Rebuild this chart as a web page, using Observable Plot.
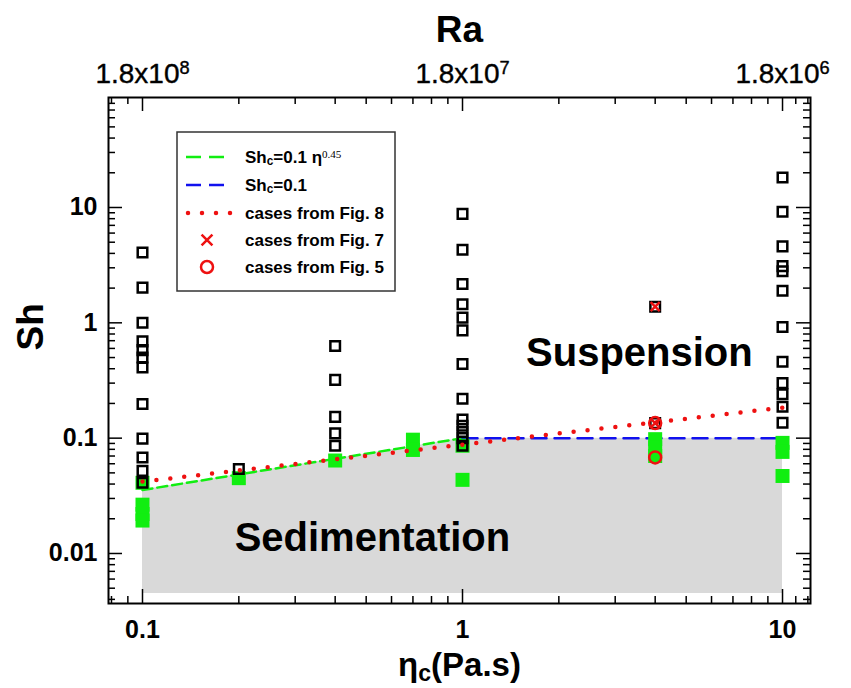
<!DOCTYPE html>
<html><head><meta charset="utf-8">
<script src="https://cdn.jsdelivr.net/npm/d3@7"></script>
<script src="https://cdn.jsdelivr.net/npm/@observablehq/plot@0.6"></script>
<style>
html,body{margin:0;padding:0;background:#fff;}
#chart{position:relative;width:851px;height:688px;}
</style></head><body><div id="chart"></div>
<script>
// ---------- data ----------
// open black squares (all simulated cases)
const openEta = [0.1,0.1,0.1,0.1,0.1,0.1,0.1,0.1,0.1,0.1,0.1,0.1,
                 0.2,
                 0.4,0.4,0.4,0.4,0.4,
                 1,1,1,1,1,1,1,1,1,1,1,1,1,
                 4,4,
                 10,10,10,10,10,10,10,10,10,10,10,10];
const openSh  = [4.07,2.02,1.0,0.69,0.58,0.50,0.41,0.198,0.099,0.068,0.052,0.041,
                 0.054,
                 0.63,0.32,0.153,0.11,0.086,
                 8.8,4.3,2.17,1.45,1.11,0.86,0.44,0.22,0.145,0.128,0.113,0.100,0.086,
                 1.38,0.135,
                 18.2,9.2,4.6,3.1,2.8,1.9,0.92,0.46,0.30,0.24,0.187,0.136];
// filled green squares (sedimenting cases)
const greenEta = [0.1,0.1,0.1,0.1, 0.2, 0.4, 0.7,0.7, 1,1, 4,4,4, 10,10,10];
const greenSh  = [0.041,0.0265,0.022,0.0193, 0.045, 0.064, 0.097,0.079, 0.086,0.0435, 0.098,0.083,0.07, 0.091,0.076,0.047];
// cases from Fig. 7 (red x) and Fig. 5 (red o)
const fig7Eta = [4,4];
const fig7Sh  = [1.38,0.135];
const fig5Eta = [4,4];
const fig5Sh  = [0.135,0.068];
// lines
const shcPowEta = [0.1,1];      // Sh_c = 0.1 eta^0.45
const shcPowSh  = [0.0355,0.1];
const shcConstEta = [1,10];     // Sh_c = 0.1
const shcConstSh  = [0.1,0.1];
const fig8Eta = [0.1,10];       // cases from Fig. 8
const fig8Sh  = [0.042,0.184];
// sedimentation region
const sedEta = [0.1,1,10];
const sedTop = [0.0355,0.1,0.1];
const sedBottom = 0.0045;
// region labels
const regionLabels = ["Suspension","Sedimentation"];
const regionEta = [3.57,0.523];
const regionSh  = [0.55,0.0137];
// axes
const xDomain = [0.0783,12.23];
const yDomain = [0.003684,89.9];
const xTickVals = [0.1,1,10];
const xTickLabels = ["0.1","1","10"];
const raTickLabels = ["1.8x10^{8}","1.8x10^{7}","1.8x10^{6}"];
const xMinor = [0.08,0.09,0.2,0.3,0.4,0.5,0.6,0.7,0.8,0.9,2,3,4,5,6,7,8,9,11,12];
const yTickVals = [0.01,0.1,1,10];
const yTickLabels = ["0.01","0.1","1","10"];
const yMinor = [0.004,0.005,0.006,0.007,0.008,0.009,0.02,0.03,0.04,0.05,0.06,0.07,0.08,0.09,
                0.2,0.3,0.4,0.5,0.6,0.7,0.8,0.9,2,3,4,5,6,7,8,9,20,30,40,50,60,70,80];
// legend
const legendLabels = ["Sh_{c}=0.1 η^{0.45}","Sh_{c}=0.1","cases from Fig. 8","cases from Fig. 7","cases from Fig. 5"];

// ---------- build ----------
const W = 851, H = 688;
const mL = 108, mR = 41, mT = 97, mB = 85;
const fw = W - mL - mR, fh = H - mT - mB;
const font = "'Liberation Sans', Arial, Helvetica, sans-serif";
const GREEN = "#11ee11", RED = "#ee1111", BLUE = "#1111ee";

const rows = (xs, ys) => xs.map((x, i) => ({x, y: ys[i]}));
const areaRows = sedEta.map((x, i) => ({x, y1: sedBottom, y2: sedTop[i]}));
const xt = xTickVals.map((v, i) => ({v, label: xTickLabels[i], ra: raTickLabels[i]}));
const yt = yTickVals.map((v, i) => ({v, label: yTickLabels[i]}));
const regions = regionLabels.map((t, i) => ({t, x: regionEta[i], y: regionSh[i]}));

const MAJ = 14, MIN = 7;
const chart = Plot.plot({
  width: W, height: H,
  marginLeft: mL, marginRight: mR, marginTop: mT, marginBottom: mB,
  style: {fontFamily: font, background: "white", color: "black"},
  x: {type: "log", domain: xDomain, axis: null},
  y: {type: "log", domain: yDomain, axis: null},
  marks: [
    Plot.areaY(areaRows, {x: "x", y1: "y1", y2: "y2", fill: "#d9d9d9"}),
    Plot.line(rows(shcPowEta, shcPowSh), {x: "x", y: "y", stroke: GREEN, strokeWidth: 2.5, strokeDasharray: "10,5"}),
    Plot.line(rows(shcConstEta, shcConstSh), {x: "x", y: "y", stroke: BLUE, strokeWidth: 2.5, strokeDasharray: "15,8"}),
    Plot.dot(rows(greenEta, greenSh), {x: "x", y: "y", symbol: "square", r: 7.9, fill: GREEN, stroke: "none"}),
    Plot.dot(rows(openEta, openSh), {x: "x", y: "y", symbol: "square", r: 5.4, fill: "none", stroke: "black", strokeWidth: 2.5}),
    Plot.line(rows(fig8Eta, fig8Sh), {x: "x", y: "y", stroke: RED, strokeWidth: 4.5, strokeDasharray: "0,14", strokeLinecap: "round"}),
    Plot.dot(rows(fig7Eta, fig7Sh), {x: "x", y: "y", symbol: "times", r: 4.2, stroke: RED, strokeWidth: 2.5}),
    Plot.dot(rows(fig5Eta, fig5Sh), {x: "x", y: "y", r: 6, fill: "none", stroke: RED, strokeWidth: 2.5}),
    // ticks (inward, mirrored)
    Plot.tickX(xTickVals, {x: d => d, stroke: "black", strokeWidth: 1.5, insetTop: fh - MAJ}),
    Plot.tickX(xTickVals, {x: d => d, stroke: "black", strokeWidth: 1.5, insetBottom: fh - MAJ}),
    Plot.tickX(xMinor, {x: d => d, stroke: "black", strokeWidth: 1.5, insetTop: fh - MIN}),
    Plot.tickX(xMinor, {x: d => d, stroke: "black", strokeWidth: 1.5, insetBottom: fh - MIN}),
    Plot.tickY(yTickVals, {y: d => d, stroke: "black", strokeWidth: 1.5, insetRight: fw - MAJ}),
    Plot.tickY(yTickVals, {y: d => d, stroke: "black", strokeWidth: 1.5, insetLeft: fw - MAJ}),
    Plot.tickY(yMinor, {y: d => d, stroke: "black", strokeWidth: 1.5, insetRight: fw - MIN}),
    Plot.tickY(yMinor, {y: d => d, stroke: "black", strokeWidth: 1.5, insetLeft: fw - MIN}),
    Plot.frame({stroke: "black", strokeWidth: 2}),
    // region labels
    Plot.text(regions, {x: "x", y: "y", text: "t", fontSize: 40, fontWeight: "bold", fill: "black"}),
    // tick labels
    Plot.text(xt, {x: "v", text: "label", frameAnchor: "bottom", lineAnchor: "middle", dy: 26, fontSize: 25, fontWeight: "bold", fill: "black"}),
    Plot.text(xt, {x: "v", text: "ra", frameAnchor: "top", lineAnchor: "middle", dy: -23, fontSize: 28, fill: "black", stroke: "black", strokeWidth: 0.4}),
    Plot.text(yt, {y: "v", text: "label", frameAnchor: "left", lineAnchor: "middle", dx: -11, textAnchor: "end", fontSize: 25, fontWeight: "bold", fill: "black"}),
    // axis titles
    Plot.text(["Ra"], {text: d => d, frameAnchor: "top", lineAnchor: "middle", dy: -67, fontSize: 37, fontWeight: "bold", fill: "black"}),
    Plot.text(["Sh"], {text: d => d, frameAnchor: "left", lineAnchor: "middle", dx: -77, rotate: -90, fontSize: 37, fontWeight: "bold", fill: "black"}),
    Plot.text(["η_{c}(Pa.s)"], {text: d => d, frameAnchor: "bottom", lineAnchor: "middle", dy: 62, fontSize: 33, fontWeight: "bold", fill: "black"})
  ]
});

// turn ^{..} / _{..} markers into raised / lowered tspans
function richText(el, s, supStyle) {
  el.textContent = "";
  const parts = s.split(/([\^_]\{[^}]*\})/).filter(p => p !== "");
  for (const p of parts) {
    const ts = document.createElementNS("http://www.w3.org/2000/svg", "tspan");
    if (p.startsWith("^{")) {
      ts.textContent = p.slice(2, -1);
      ts.setAttribute("baseline-shift", "50%");
      ts.setAttribute("font-size", "65%");
      if (supStyle) for (const k in supStyle) ts.setAttribute(k, supStyle[k]);
    } else if (p.startsWith("_{")) {
      ts.textContent = p.slice(2, -1);
      ts.setAttribute("baseline-shift", "-20%");
      ts.setAttribute("font-size", "70%");
    } else {
      ts.textContent = p;
    }
    el.appendChild(ts);
  }
}
chart.querySelectorAll("text").forEach(t => {
  const s = t.textContent;
  if (/[\^_]\{/.test(s)) richText(t, s);
});

// legend inside the frame
const svg = d3.select(chart);
const lg = svg.append("g").attr("font-family", font).attr("text-anchor", "start");
const LX = 177, LY = 132, LW = 218, LH = 159;
lg.append("rect").attr("x", LX).attr("y", LY).attr("width", LW).attr("height", LH)
  .attr("fill", "white").attr("stroke", "#333").attr("stroke-width", 1.5);
const rowY = [25, 53, 81, 108, 135].map(d => LY + d);
const sx1 = 186, sx2 = 228, sxm = 207, tx = 245;
lg.append("line").attr("x1", sx1).attr("x2", sx2).attr("y1", rowY[0]).attr("y2", rowY[0])
  .attr("stroke", GREEN).attr("stroke-width", 2.5).attr("stroke-dasharray", "15,8");
lg.append("line").attr("x1", sx1).attr("x2", sx2).attr("y1", rowY[1]).attr("y2", rowY[1])
  .attr("stroke", BLUE).attr("stroke-width", 2.5).attr("stroke-dasharray", "15,8");
lg.append("line").attr("x1", sx1 + 2).attr("x2", sx2 + 4).attr("y1", rowY[2]).attr("y2", rowY[2])
  .attr("stroke", RED).attr("stroke-width", 4.5).attr("stroke-dasharray", "0,14").attr("stroke-linecap", "round");
lg.append("path").attr("d", d3.symbol(d3.symbolTimes, Math.PI * 5 * 5)())
  .attr("transform", `translate(${sxm},${rowY[3]})`).attr("fill", "none").attr("stroke", RED).attr("stroke-width", 2.5);
lg.append("circle").attr("cx", sxm).attr("cy", rowY[4]).attr("r", 6)
  .attr("fill", "none").attr("stroke", RED).attr("stroke-width", 2.5);
legendLabels.forEach((s, i) => {
  const t = lg.append("text").attr("x", tx).attr("y", rowY[i]).attr("dy", "0.35em")
    .attr("font-size", 17).attr("font-weight", "bold").attr("fill", "black").node();
  richText(t, s, {"font-weight": "normal", "font-family": "'Liberation Serif', 'DejaVu Serif', serif"});
});

document.getElementById("chart").appendChild(chart);
</script>
</body></html>
